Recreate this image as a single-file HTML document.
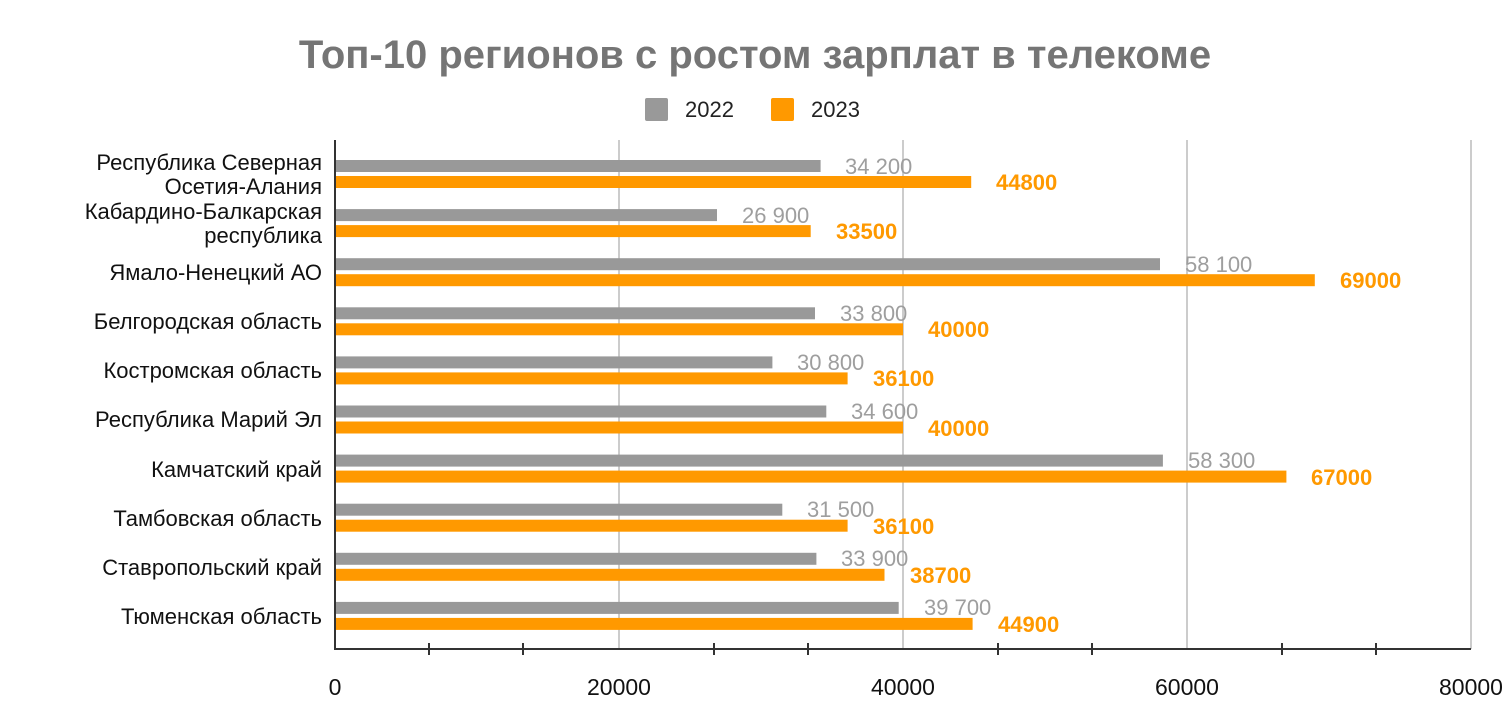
<!DOCTYPE html>
<html><head><meta charset="utf-8"><style>
body{margin:0;background:#fff;width:1510px;height:722px;overflow:hidden;font-family:"Liberation Sans",Arial,sans-serif}
</style></head><body>
<svg width="1510" height="722" xmlns="http://www.w3.org/2000/svg" font-family="Liberation Sans, Arial, sans-serif">
<text x="755" y="68" text-anchor="middle" font-size="40" font-weight="bold" fill="#757575">Топ-10 регионов с ростом зарплат в телекоме</text>
<rect x="645" y="98" width="23" height="23" rx="2" fill="#999"/>
<text x="685" y="117" font-size="22" fill="#222">2022</text>
<rect x="771" y="98" width="23" height="23" rx="2" fill="#ff9900"/>
<text x="811" y="117" font-size="22" fill="#222">2023</text>
<g stroke="#ccc" stroke-width="2">
<line x1="619" y1="140" x2="619" y2="649"/><line x1="903" y1="140" x2="903" y2="649"/><line x1="1187" y1="140" x2="1187" y2="649"/><line x1="1471" y1="140" x2="1471" y2="649"/>
</g>
<g fill="#999">
<rect x="335" y="160" width="485.6" height="12"/>
<rect x="335" y="209.1" width="382" height="12"/>
<rect x="335" y="258.2" width="825" height="12"/>
<rect x="335" y="307.3" width="480" height="12"/>
<rect x="335" y="356.4" width="437.4" height="12"/>
<rect x="335" y="405.5" width="491.3" height="12"/>
<rect x="335" y="454.6" width="827.9" height="12"/>
<rect x="335" y="503.7" width="447.3" height="12"/>
<rect x="335" y="552.8" width="481.4" height="12"/>
<rect x="335" y="601.9" width="563.7" height="12"/>
</g>
<g fill="#ff9900">
<rect x="335" y="176" width="636.2" height="12"/>
<rect x="335" y="225.1" width="475.7" height="12"/>
<rect x="335" y="274.2" width="979.8" height="12"/>
<rect x="335" y="323.3" width="568" height="12"/>
<rect x="335" y="372.4" width="512.6" height="12"/>
<rect x="335" y="421.5" width="568" height="12"/>
<rect x="335" y="470.6" width="951.4" height="12"/>
<rect x="335" y="519.7" width="512.6" height="12"/>
<rect x="335" y="568.8" width="549.5" height="12"/>
<rect x="335" y="617.9" width="637.6" height="12"/>
</g>
<g font-size="22" fill="#9e9e9e">
<text x="845" y="174">34 200</text>
<text x="742" y="223">26 900</text>
<text x="1185" y="272">58 100</text>
<text x="840" y="321">33 800</text>
<text x="797" y="370">30 800</text>
<text x="851" y="419">34 600</text>
<text x="1188" y="468">58 300</text>
<text x="807" y="517">31 500</text>
<text x="841" y="566">33 900</text>
<text x="924" y="615">39 700</text>
</g>
<g font-size="22" font-weight="bold" fill="#ff9900">
<text x="996" y="190">44800</text>
<text x="836" y="239">33500</text>
<text x="1340" y="288">69000</text>
<text x="928" y="337">40000</text>
<text x="873" y="386">36100</text>
<text x="928" y="436">40000</text>
<text x="1311" y="485">67000</text>
<text x="873" y="534">36100</text>
<text x="910" y="583">38700</text>
<text x="998" y="632">44900</text>
</g>
<g font-size="22" fill="#111" text-anchor="end">
<text x="322" y="170">Республика Северная</text>
<text x="322" y="194">Осетия-Алания</text>
<text x="322" y="219">Кабардино-Балкарская</text>
<text x="322" y="243">республика</text>
<text x="322" y="280">Ямало-Ненецкий АО</text>
<text x="322" y="329">Белгородская область</text>
<text x="322" y="378">Костромская область</text>
<text x="322" y="427">Республика Марий Эл</text>
<text x="322" y="477">Камчатский край</text>
<text x="322" y="526">Тамбовская область</text>
<text x="322" y="575">Ставропольский край</text>
<text x="322" y="624">Тюменская область</text>
</g>
<line x1="335" y1="140" x2="335" y2="650" stroke="#333" stroke-width="2"/>
<line x1="334" y1="649" x2="1471" y2="649" stroke="#333" stroke-width="2"/>
<g stroke="#333" stroke-width="2">
<line x1="429" y1="643" x2="429" y2="655"/><line x1="523" y1="643" x2="523" y2="655"/>
<line x1="714" y1="643" x2="714" y2="655"/><line x1="808" y1="643" x2="808" y2="655"/>
<line x1="998" y1="643" x2="998" y2="655"/><line x1="1092" y1="643" x2="1092" y2="655"/>
<line x1="1282" y1="643" x2="1282" y2="655"/><line x1="1376" y1="643" x2="1376" y2="655"/>
</g>
<g font-size="23" fill="#111" text-anchor="middle">
<text x="335" y="695">0</text><text x="619" y="695">20000</text><text x="903" y="695">40000</text><text x="1187" y="695">60000</text><text x="1471" y="695">80000</text>
</g>
</svg>
</body></html>
